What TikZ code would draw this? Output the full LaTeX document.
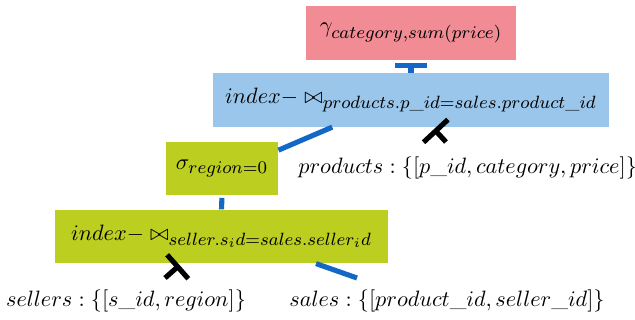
\documentclass[tikz,border=0pt]{standalone}
\usepackage[svgnames]{xcolor}
\usepackage{amsfonts, amsmath, amssymb}
\usetikzlibrary{arrows.meta}
\DeclareMathSizes{10}{10}{8}{6}

\definecolor{aggpink}{RGB}{242,140,148}
\definecolor{joinblue}{RGB}{153,198,234}
\definecolor{selgreen}{RGB}{188,206,31}
\definecolor{pipeblue}{RGB}{18,104,196}

\begin{document}
\begin{tikzpicture}[x=0.45pt, y=-0.45pt,
	op/.style={inner sep=0pt, minimum height=24pt},
	pipe/.style={draw=pipeblue, line width=2.3pt},
	probe/.style={draw=black, line width=2.3pt, -{Bar[width=15pt, line width=2.3pt]}}]
	\useasboundingbox (0,0) rectangle (635,320);
	% operator boxes
	\node (agg) [op, fill=aggpink, minimum width=94.5pt] at (411,33) {$\gamma_{category,sum(price)}$};
	\node (join1) [op, fill=joinblue, minimum width=178.2pt] at (411,100) {$index-\bowtie_{products.p\_id=sales.product\_id}$};
	\node (sigma) [op, fill=selgreen, minimum width=50.4pt] at (222,168.5) {$\sigma_{region=0}$};
	\node (join2) [op, fill=selgreen, minimum width=149.9pt] at (221.5,236.5) {$index-\bowtie_{seller.s_id=sales.seller_id}$};
	% base tables
	\node (products) [anchor=west, inner sep=0pt] at (298,168) {$products:\{[p\_id,category,price]\}$};
	\node (sellers) at (126,301) {$sellers:\{[s\_id,region]\}$};
	\node (sales) at (447,301) {$sales:\{[product\_id,seller\_id]\}$};
	\coordinate (prodleg) at (446,142);
	\coordinate (sellleg) at (165,278);
	\coordinate (salesleg) at (357,278);
	% edges
	\draw[pipe, line width=2.7pt, -{Bar[width=14.4pt, line width=2.3pt]}, shorten >=1.3pt] (join1.north) -- (agg.south);
	\draw[pipe] (join1.199) -- (sigma.18);
	\draw[pipe, shorten <=1pt] (sigma.south) -- (join2.north);
	\draw[pipe] (join2.-16) -- (salesleg);
	\draw[probe, shorten >=1.2pt] (prodleg) -- (join1.-52);
	\draw[probe, -{Bar[width=14.4pt, line width=2.3pt]}, shorten >=1pt] (sellleg) -- (join2.214);
\end{tikzpicture}
\end{document}
